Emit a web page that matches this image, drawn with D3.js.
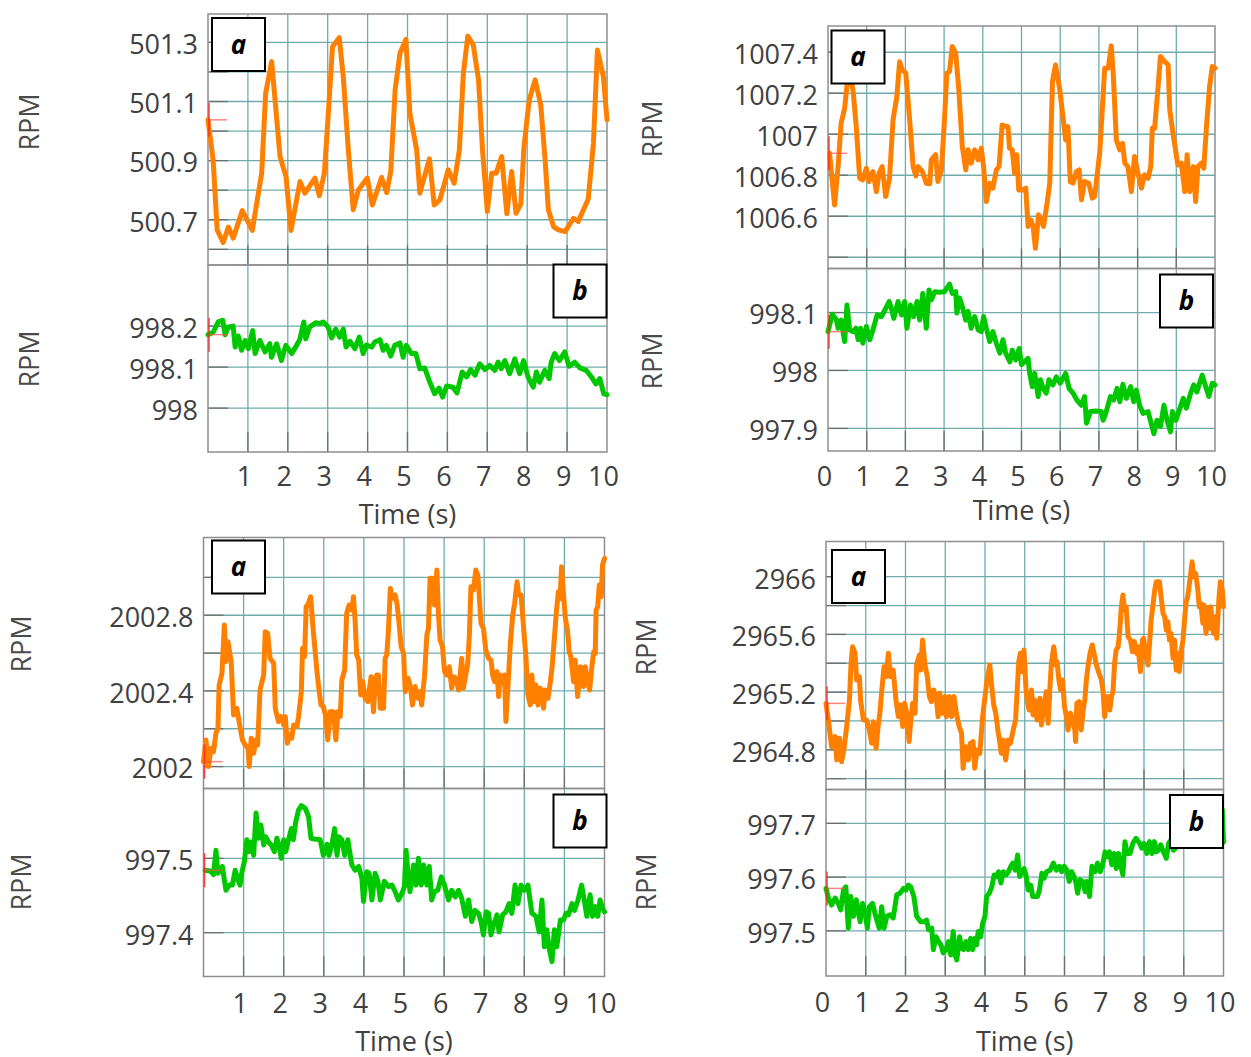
<!DOCTYPE html>
<html>
<head>
<meta charset="utf-8">
<script src="https://cdn.jsdelivr.net/npm/d3@7/dist/d3.min.js"></script>
<style>
  body { margin: 0; background: #fff; }
  svg { display: block; }
  text { font-family: "Open Sans", "Noto Sans", sans-serif; }
</style>
</head>
<body>
<div id="chart"></div>
<script>
// -------------------- Data --------------------

// [time (s), RPM]
const rpm500 = [[0,501.038],[0.13,500.90],[0.23,500.666],[0.38,500.623],[0.51,500.675],[0.635,500.638],[0.86,500.731],[1.11,500.664],[1.345,500.857],[1.445,501.128],[1.596,501.235],[1.805,500.914],[1.955,500.846],[2.08,500.664],[2.306,500.829],[2.43,500.79],[2.68,500.841],[2.79,500.781],[2.916,500.857],[3.016,501.06],[3.12,501.285],[3.29,501.316],[3.39,501.184],[3.517,500.936],[3.64,500.734],[3.77,500.801],[3.99,500.841],[4.12,500.75],[4.35,500.843],[4.48,500.792],[4.58,500.863],[4.69,501.139],[4.81,501.263],[4.96,501.31],[5.06,501.06],[5.23,500.936],[5.31,500.79],[5.55,500.906],[5.67,500.75],[5.81,500.767],[6.02,500.869],[6.17,500.824],[6.3,500.936],[6.4,501.195],[6.51,501.321],[6.65,501.291],[6.78,501.173],[6.88,500.936],[7.0,500.728],[7.11,500.857],[7.22,500.857],[7.36,500.914],[7.49,500.72],[7.61,500.863],[7.72,500.722],[7.84,500.754],[7.92,500.948],[8.05,501.105],[8.2,501.173],[8.34,501.088],[8.45,500.9],[8.53,500.734],[8.66,500.677],[8.78,500.666],[8.95,500.66],[9.16,500.705],[9.28,500.694],[9.53,500.77],[9.66,500.959],[9.76,501.274],[9.91,501.184],[10,501.038]];

const rpm998a = [[0,998.179],[0.13,998.185],[0.26,998.211],[0.37,998.214],[0.43,998.179],[0.51,998.198],[0.63,998.2],[0.68,998.149],[0.76,998.176],[0.84,998.141],[0.93,998.165],[1.01,998.145],[1.12,998.189],[1.18,998.133],[1.3,998.165],[1.43,998.137],[1.55,998.157],[1.59,998.124],[1.72,998.157],[1.84,998.116],[1.95,998.153],[2.1,998.133],[2.22,998.153],[2.3,998.167],[2.4,998.21],[2.45,998.169],[2.55,998.198],[2.7,998.208],[2.8,998.206],[2.89,998.21],[3.01,998.198],[3.1,998.171],[3.2,998.193],[3.3,998.173],[3.39,998.193],[3.46,998.149],[3.56,998.163],[3.68,998.145],[3.79,998.173],[3.89,998.133],[3.97,998.154],[4.1,998.149],[4.18,998.161],[4.31,998.167],[4.39,998.141],[4.47,998.153],[4.58,998.127],[4.68,998.153],[4.81,998.159],[4.89,998.124],[4.97,998.153],[5.1,998.133],[5.21,998.133],[5.31,998.096],[5.43,998.098],[5.56,998.063],[5.68,998.035],[5.79,998.049],[5.88,998.027],[5.98,998.054],[6.14,998.051],[6.24,998.037],[6.37,998.088],[6.48,998.076],[6.58,998.094],[6.69,998.08],[6.81,998.108],[6.94,998.094],[7.06,998.104],[7.19,998.092],[7.27,998.112],[7.35,998.096],[7.44,998.116],[7.56,998.084],[7.69,998.12],[7.81,998.084],[7.91,998.116],[8.02,998.076],[8.15,998.051],[8.23,998.088],[8.31,998.063],[8.44,998.092],[8.55,998.072],[8.6,998.112],[8.69,998.133],[8.81,998.116],[8.94,998.137],[9.05,998.102],[9.19,998.112],[9.32,998.098],[9.48,998.092],[9.61,998.076],[9.72,998.059],[9.82,998.072],[9.92,998.035],[10,998.033]];

const rpm1007 = [[0.04,1006.907],[0.17,1006.655],[0.26,1006.842],[0.34,1007.054],[0.43,1007.127],[0.54,1007.33],[0.65,1007.208],[0.73,1007.037],[0.82,1006.785],[0.9,1006.777],[0.99,1006.834],[1.06,1006.769],[1.16,1006.818],[1.25,1006.72],[1.32,1006.81],[1.4,1006.842],[1.49,1006.696],[1.59,1006.785],[1.68,1007.07],[1.78,1007.184],[1.85,1007.354],[1.92,1007.314],[2.01,1007.298],[2.11,1007.07],[2.2,1006.842],[2.27,1006.797],[2.33,1006.842],[2.44,1006.818],[2.54,1006.761],[2.63,1006.758],[2.67,1006.875],[2.78,1006.9],[2.84,1006.769],[2.93,1006.826],[3.01,1007.07],[3.07,1007.298],[3.14,1007.306],[3.21,1007.428],[3.3,1007.395],[3.38,1007.216],[3.47,1006.94],[3.56,1006.826],[3.62,1006.924],[3.7,1006.859],[3.79,1006.924],[3.88,1006.875],[3.96,1006.932],[4.02,1006.842],[4.09,1006.672],[4.18,1006.761],[4.26,1006.737],[4.35,1006.826],[4.42,1006.842],[4.5,1007.045],[4.57,1007.04],[4.65,1007.037],[4.69,1006.932],[4.76,1006.924],[4.82,1006.81],[4.88,1006.9],[4.93,1006.728],[5.02,1006.728],[5.11,1006.737],[5.17,1006.55],[5.24,1006.582],[5.3,1006.55],[5.36,1006.444],[5.44,1006.607],[5.51,1006.582],[5.57,1006.55],[5.66,1006.663],[5.73,1006.761],[5.8,1007.257],[5.88,1007.338],[5.99,1007.216],[6.07,1007.086],[6.14,1006.972],[6.2,1007.037],[6.26,1006.769],[6.33,1006.761],[6.42,1006.818],[6.49,1006.826],[6.55,1006.68],[6.63,1006.769],[6.74,1006.761],[6.83,1006.688],[6.89,1006.696],[7.02,1006.907],[7.15,1007.322],[7.24,1007.322],[7.32,1007.431],[7.37,1007.298],[7.45,1006.972],[7.54,1006.924],[7.61,1006.956],[7.67,1006.859],[7.75,1006.842],[7.84,1006.72],[7.92,1006.891],[8.01,1006.81],[8.1,1006.737],[8.18,1006.802],[8.27,1006.785],[8.34,1006.842],[8.38,1007.029],[8.44,1007.029],[8.53,1007.232],[8.59,1007.379],[8.7,1007.354],[8.79,1007.338],[8.83,1007.119],[8.92,1006.997],[9.04,1006.85],[9.13,1006.859],[9.22,1006.72],[9.28,1006.9],[9.35,1006.72],[9.44,1006.842],[9.5,1006.672],[9.56,1006.842],[9.65,1006.859],[9.71,1006.834],[9.78,1007.037],[9.86,1007.232],[9.93,1007.33],[10,1007.322]];

const rpm998b = [[0,998.067],[0.11,998.097],[0.22,998.087],[0.26,998.073],[0.34,998.087],[0.43,998.05],[0.49,998.113],[0.56,998.07],[0.65,998.067],[0.72,998.073],[0.78,998.053],[0.84,998.073],[0.9,998.047],[0.99,998.076],[1.08,998.053],[1.16,998.07],[1.27,998.096],[1.38,998.093],[1.49,998.107],[1.58,998.119],[1.64,998.107],[1.7,998.09],[1.81,998.119],[1.9,998.096],[1.98,998.119],[2.04,998.073],[2.13,998.113],[2.21,998.093],[2.3,998.119],[2.37,998.087],[2.45,998.133],[2.54,998.073],[2.61,998.139],[2.67,998.122],[2.76,998.136],[2.89,998.135],[3.01,998.136],[3.14,998.149],[3.21,998.133],[3.3,998.136],[3.33,998.099],[3.4,998.125],[3.47,998.11],[3.56,998.087],[3.62,998.102],[3.7,998.073],[3.79,998.093],[3.88,998.07],[3.96,998.067],[4.02,998.093],[4.09,998.073],[4.18,998.05],[4.26,998.067],[4.35,998.047],[4.44,998.03],[4.52,998.053],[4.59,998.03],[4.7,998.015],[4.76,998.035],[4.85,998.018],[4.94,998.038],[5.0,998.01],[5.08,998.015],[5.17,998.021],[5.21,997.995],[5.28,997.972],[5.34,997.995],[5.43,997.955],[5.49,997.984],[5.56,997.969],[5.64,997.961],[5.71,997.984],[5.81,997.975],[5.9,997.989],[6.0,997.978],[6.14,997.995],[6.23,997.969],[6.33,997.961],[6.43,997.949],[6.55,997.94],[6.63,997.955],[6.68,997.909],[6.78,997.929],[6.92,997.93],[7.06,997.929],[7.11,997.914],[7.19,997.929],[7.3,997.955],[7.38,997.949],[7.47,997.969],[7.54,997.946],[7.62,997.976],[7.71,997.952],[7.82,997.972],[7.9,997.946],[7.97,997.966],[8.05,997.94],[8.14,997.926],[8.27,997.929],[8.33,997.914],[8.42,997.891],[8.5,997.914],[8.59,997.903],[8.68,997.94],[8.76,997.914],[8.85,997.894],[8.9,997.929],[8.99,997.914],[9.08,997.932],[9.18,997.952],[9.26,997.935],[9.37,997.961],[9.45,997.975],[9.53,997.963],[9.67,997.992],[9.76,997.972],[9.84,997.955],[9.93,997.978],[10,997.975]];

const rpm2002 = [[0,2002.026],[0.06,2002.141],[0.12,2002.0],[0.19,2002.097],[0.25,2002.079],[0.31,2002.176],[0.36,2002.202],[0.39,2002.431],[0.46,2002.493],[0.52,2002.748],[0.56,2002.555],[0.61,2002.66],[0.69,2002.555],[0.75,2002.273],[0.83,2002.308],[0.91,2002.211],[0.97,2002.141],[1.04,2002.114],[1.11,2002.097],[1.14,2002.0],[1.19,2002.15],[1.25,2002.07],[1.31,2002.141],[1.35,2002.114],[1.41,2002.405],[1.5,2002.484],[1.54,2002.713],[1.6,2002.704],[1.66,2002.572],[1.75,2002.546],[1.79,2002.308],[1.87,2002.238],[1.94,2002.264],[2.0,2002.22],[2.04,2002.264],[2.09,2002.123],[2.14,2002.167],[2.2,2002.15],[2.25,2002.22],[2.33,2002.211],[2.37,2002.264],[2.44,2002.396],[2.47,2002.625],[2.52,2002.581],[2.56,2002.845],[2.62,2002.863],[2.67,2002.898],[2.74,2002.713],[2.83,2002.502],[2.88,2002.405],[2.93,2002.326],[2.99,2002.317],[3.05,2002.264],[3.1,2002.141],[3.16,2002.29],[3.24,2002.29],[3.3,2002.141],[3.35,2002.29],[3.41,2002.264],[3.45,2002.458],[3.52,2002.511],[3.57,2002.81],[3.63,2002.854],[3.7,2002.827],[3.74,2002.898],[3.78,2002.775],[3.82,2002.59],[3.87,2002.563],[3.92,2002.379],[3.97,2002.449],[4.03,2002.361],[4.1,2002.343],[4.14,2002.414],[4.18,2002.475],[4.24,2002.29],[4.28,2002.449],[4.32,2002.484],[4.36,2002.484],[4.41,2002.308],[4.49,2002.308],[4.53,2002.572],[4.57,2002.59],[4.61,2002.713],[4.66,2002.942],[4.71,2002.889],[4.78,2002.907],[4.83,2002.854],[4.88,2002.748],[4.93,2002.634],[4.99,2002.599],[5.03,2002.396],[5.1,2002.467],[5.16,2002.423],[5.21,2002.326],[5.28,2002.423],[5.35,2002.361],[5.4,2002.396],[5.44,2002.326],[5.51,2002.475],[5.57,2002.695],[5.61,2002.731],[5.65,2002.995],[5.71,2002.995],[5.76,2002.854],[5.82,2003.039],[5.86,2002.801],[5.9,2002.669],[5.96,2002.634],[6.01,2002.502],[6.07,2002.484],[6.13,2002.528],[6.19,2002.414],[6.23,2002.475],[6.29,2002.467],[6.36,2002.405],[6.44,2002.572],[6.48,2002.414],[6.54,2002.484],[6.59,2002.546],[6.63,2002.695],[6.67,2002.951],[6.73,2002.933],[6.79,2003.039],[6.84,2003.012],[6.87,2002.924],[6.92,2002.757],[6.98,2002.731],[7.04,2002.616],[7.11,2002.572],[7.17,2002.563],[7.21,2002.484],[7.26,2002.449],[7.32,2002.502],[7.36,2002.37],[7.4,2002.484],[7.46,2002.44],[7.51,2002.484],[7.54,2002.238],[7.59,2002.414],[7.65,2002.643],[7.71,2002.801],[7.76,2002.863],[7.82,2002.977],[7.86,2002.907],[7.92,2002.907],[7.98,2002.739],[8.04,2002.581],[8.09,2002.379],[8.15,2002.326],[8.19,2002.484],[8.23,2002.343],[8.29,2002.431],[8.34,2002.326],[8.4,2002.414],[8.44,2002.387],[8.48,2002.308],[8.52,2002.405],[8.59,2002.361],[8.65,2002.449],[8.69,2002.519],[8.75,2002.678],[8.8,2002.819],[8.85,2002.924],[8.89,2002.887],[8.93,2003.056],[8.97,2002.933],[9.02,2002.792],[9.08,2002.713],[9.12,2002.607],[9.16,2002.581],[9.23,2002.449],[9.27,2002.563],[9.33,2002.37],[9.4,2002.528],[9.44,2002.519],[9.48,2002.423],[9.52,2002.528],[9.58,2002.449],[9.63,2002.405],[9.68,2002.519],[9.73,2002.607],[9.77,2002.599],[9.79,2002.827],[9.83,2002.845],[9.87,2002.96],[9.92,2002.898],[9.95,2003.065],[10,2003.1]];

const rpm997a = [[0.04,997.484],[0.17,997.483],[0.25,997.478],[0.31,997.511],[0.36,997.48],[0.42,997.484],[0.47,997.489],[0.56,997.457],[0.64,997.464],[0.72,997.464],[0.79,997.484],[0.86,997.471],[0.91,997.464],[0.96,997.482],[1.02,997.496],[1.08,997.525],[1.14,997.509],[1.19,997.522],[1.25,997.504],[1.31,997.561],[1.37,997.527],[1.43,997.545],[1.5,997.518],[1.55,997.529],[1.62,997.522],[1.69,997.518],[1.77,997.509],[1.83,997.527],[1.89,997.516],[1.94,997.5],[2.0,997.525],[2.05,997.509],[2.12,997.525],[2.19,997.54],[2.24,997.525],[2.3,997.549],[2.37,997.565],[2.44,997.571],[2.54,997.567],[2.62,997.556],[2.68,997.527],[2.77,997.526],[2.91,997.525],[2.99,997.504],[3.08,997.519],[3.13,997.504],[3.2,997.518],[3.27,997.54],[3.33,997.504],[3.38,997.529],[3.45,997.525],[3.52,997.504],[3.6,997.525],[3.66,997.504],[3.7,997.491],[3.78,997.484],[3.87,997.489],[3.95,997.473],[3.99,997.442],[4.07,997.482],[4.13,997.48],[4.2,997.444],[4.28,997.48],[4.35,997.469],[4.41,997.444],[4.51,997.469],[4.61,997.462],[4.7,997.464],[4.78,997.455],[4.86,997.444],[4.95,997.453],[5.01,997.462],[5.05,997.511],[5.1,997.48],[5.15,997.455],[5.24,997.491],[5.3,997.464],[5.36,997.5],[5.43,997.464],[5.49,997.491],[5.57,997.464],[5.63,997.489],[5.69,997.444],[5.76,997.455],[5.84,997.457],[5.93,997.475],[6.01,997.464],[6.11,997.444],[6.19,997.457],[6.28,997.448],[6.36,997.457],[6.44,997.446],[6.53,997.422],[6.61,997.444],[6.69,997.415],[6.77,997.43],[6.86,997.426],[6.92,997.415],[6.98,997.397],[7.05,997.428],[7.11,997.426],[7.17,997.397],[7.23,997.41],[7.32,997.424],[7.37,997.401],[7.46,997.424],[7.54,997.428],[7.62,997.439],[7.69,997.426],[7.77,997.464],[7.84,997.439],[7.92,997.464],[8.0,997.457],[8.09,997.464],[8.19,997.426],[8.29,997.422],[8.37,997.401],[8.44,997.444],[8.5,997.381],[8.56,997.404],[8.62,997.379],[8.69,997.361],[8.75,997.404],[8.81,997.381],[8.9,997.417],[8.98,997.417],[9.04,997.426],[9.1,997.424],[9.19,997.439],[9.25,997.43],[9.34,997.444],[9.43,997.464],[9.5,997.442],[9.56,997.422],[9.64,997.451],[9.7,997.422],[9.77,997.435],[9.83,997.422],[9.89,997.444],[9.95,997.433],[10,997.428]];

const rpm2965 = [[0,2965.122],[0.08,2964.961],[0.14,2964.822],[0.23,2964.891],[0.27,2964.73],[0.34,2964.88],[0.39,2964.718],[0.45,2964.799],[0.52,2964.961],[0.59,2965.145],[0.63,2965.4],[0.67,2965.515],[0.73,2965.469],[0.77,2965.284],[0.84,2965.307],[0.87,2965.145],[0.94,2965.007],[1.02,2965.007],[1.09,2964.938],[1.15,2964.845],[1.19,2964.995],[1.26,2964.811],[1.31,2964.961],[1.36,2965.065],[1.4,2965.203],[1.46,2965.376],[1.51,2965.307],[1.57,2965.469],[1.62,2965.307],[1.69,2965.353],[1.76,2965.145],[1.82,2965.03],[1.88,2965.111],[1.93,2964.961],[1.98,2965.122],[2.04,2965.042],[2.09,2964.857],[2.13,2964.995],[2.18,2965.122],[2.24,2965.053],[2.28,2965.388],[2.35,2965.457],[2.38,2965.353],[2.43,2965.561],[2.49,2965.388],[2.55,2965.307],[2.6,2965.169],[2.65,2965.134],[2.71,2965.215],[2.78,2965.145],[2.82,2965.03],[2.86,2965.192],[2.93,2965.053],[2.99,2965.169],[3.03,2965.03],[3.1,2965.169],[3.16,2965.03],[3.22,2965.169],[3.28,2965.053],[3.35,2964.961],[3.41,2964.915],[3.45,2964.672],[3.51,2964.822],[3.58,2964.73],[3.63,2964.845],[3.7,2964.857],[3.74,2964.672],[3.8,2964.799],[3.87,2964.776],[3.94,2965.03],[4.0,2965.169],[4.05,2965.284],[4.12,2965.388],[4.17,2965.238],[4.22,2965.111],[4.27,2965.053],[4.33,2964.926],[4.37,2964.857],[4.41,2964.776],[4.46,2964.868],[4.52,2964.73],[4.58,2964.868],[4.64,2964.845],[4.71,2964.938],[4.77,2965.007],[4.81,2965.215],[4.85,2965.411],[4.89,2965.469],[4.94,2965.342],[4.98,2965.492],[5.03,2965.226],[5.06,2965.145],[5.11,2965.076],[5.17,2965.215],[5.21,2965.042],[5.25,2965.145],[5.31,2965.007],[5.38,2965.157],[5.42,2964.972],[5.48,2965.099],[5.54,2965.203],[5.59,2964.984],[5.63,2965.215],[5.67,2965.4],[5.73,2965.515],[5.78,2965.388],[5.81,2965.411],[5.86,2965.284],[5.9,2965.215],[5.95,2965.284],[6.0,2965.099],[6.05,2965.03],[6.09,2964.938],[6.15,2965.053],[6.2,2965.007],[6.26,2964.938],[6.28,2964.857],[6.31,2965.122],[6.37,2965.134],[6.42,2964.938],[6.47,2965.076],[6.51,2965.145],[6.55,2965.284],[6.59,2965.376],[6.65,2965.48],[6.7,2965.527],[6.76,2965.446],[6.8,2965.388],[6.87,2965.33],[6.93,2965.284],[6.97,2965.203],[7.01,2965.03],[7.05,2965.099],[7.09,2965.169],[7.14,2965.076],[7.18,2965.169],[7.22,2965.203],[7.26,2965.4],[7.3,2965.492],[7.35,2965.515],[7.39,2965.63],[7.43,2965.792],[7.47,2965.873],[7.51,2965.769],[7.55,2965.792],[7.6,2965.584],[7.66,2965.561],[7.71,2965.48],[7.76,2965.55],[7.81,2965.469],[7.85,2965.515],[7.91,2965.342],[7.96,2965.561],[7.99,2965.573],[8.04,2965.457],[8.1,2965.388],[8.14,2965.538],[8.18,2965.7],[8.22,2965.792],[8.27,2965.908],[8.31,2965.965],[8.39,2965.965],[8.43,2965.861],[8.48,2965.746],[8.52,2965.723],[8.56,2965.63],[8.6,2965.688],[8.64,2965.561],[8.68,2965.607],[8.73,2965.434],[8.77,2965.561],[8.81,2965.353],[8.85,2965.469],[8.89,2965.342],[8.94,2965.492],[8.98,2965.561],[9.02,2965.7],[9.06,2965.827],[9.1,2965.861],[9.16,2965.988],[9.21,2966.104],[9.25,2966.0],[9.3,2966.023],[9.35,2965.919],[9.39,2965.792],[9.43,2965.815],[9.48,2965.677],[9.51,2965.804],[9.56,2965.607],[9.61,2965.781],[9.65,2965.642],[9.68,2965.792],[9.72,2965.665],[9.75,2965.607],[9.8,2965.723],[9.83,2965.573],[9.88,2965.827],[9.92,2965.965],[9.97,2965.908],[10,2965.792]];

const rpm997b = [[0,997.579],[0.06,997.561],[0.14,997.548],[0.23,997.561],[0.31,997.551],[0.37,997.539],[0.44,997.576],[0.5,997.582],[0.56,997.505],[0.62,997.564],[0.69,997.527],[0.76,997.558],[0.81,997.536],[0.86,997.517],[0.92,997.551],[0.98,997.536],[1.04,997.505],[1.09,997.545],[1.17,997.551],[1.23,997.533],[1.29,997.517],[1.34,997.505],[1.4,997.545],[1.46,997.505],[1.53,997.527],[1.61,997.53],[1.69,997.524],[1.78,997.567],[1.86,997.57],[1.95,997.579],[2.01,997.576],[2.07,997.585],[2.13,997.582],[2.21,997.564],[2.28,997.527],[2.38,997.517],[2.47,997.517],[2.53,997.52],[2.58,997.502],[2.66,997.505],[2.7,997.465],[2.77,997.489],[2.83,997.48],[2.89,997.474],[2.95,997.459],[3.02,997.465],[3.08,997.48],[3.14,997.455],[3.2,997.499],[3.25,997.455],[3.29,997.446],[3.36,997.489],[3.41,997.468],[3.46,997.465],[3.52,997.48],[3.58,997.465],[3.64,997.486],[3.69,997.465],[3.75,997.486],[3.79,997.474],[3.83,997.499],[3.89,997.489],[3.94,997.514],[4.0,997.527],[4.04,997.564],[4.11,997.57],[4.17,997.582],[4.23,997.604],[4.3,997.601],[4.34,997.61],[4.4,997.589],[4.46,997.61],[4.53,997.604],[4.59,997.61],[4.65,997.62],[4.7,997.626],[4.76,997.613],[4.82,997.641],[4.87,997.601],[4.92,997.607],[4.98,997.616],[5.03,997.604],[5.09,997.576],[5.15,997.585],[5.2,997.564],[5.26,997.564],[5.32,997.564],[5.37,997.576],[5.43,997.607],[5.49,997.598],[5.55,997.61],[5.64,997.613],[5.72,997.626],[5.8,997.613],[5.87,997.62],[5.93,997.61],[5.99,997.62],[6.06,997.613],[6.12,997.592],[6.18,997.61],[6.24,997.601],[6.29,997.589],[6.33,997.57],[6.39,997.595],[6.46,997.592],[6.52,997.573],[6.56,997.592],[6.63,997.564],[6.69,997.62],[6.77,997.61],[6.83,997.626],[6.9,997.61],[6.96,997.623],[7.02,997.647],[7.08,997.638],[7.13,997.647],[7.19,997.623],[7.25,997.644],[7.3,997.616],[7.36,997.644],[7.4,997.626],[7.47,997.604],[7.52,997.666],[7.58,997.644],[7.65,997.644],[7.72,997.663],[7.8,997.672],[7.89,997.663],[7.94,997.654],[8.0,997.663],[8.07,997.644],[8.14,997.666],[8.2,997.644],[8.26,997.666],[8.31,997.647],[8.36,997.65],[8.42,997.66],[8.49,997.647],[8.56,997.635],[8.62,997.663],[8.68,997.669],[8.74,997.65],[8.83,997.657],[8.91,997.663],[9.25,997.665],[9.6,997.68],[9.97,997.725],[10,997.665]];

// gridlines and labelled ticks of each y axis
const gridP1a = [500.6, 500.7, 500.8, 500.9, 501.0, 501.1, 501.2, 501.3];
const labelsP1a = [500.7, 500.9, 501.1, 501.3];
const gridP1b = [998.0, 998.1, 998.2];
const gridP2a = [1006.4, 1006.6, 1006.8, 1007.0, 1007.2, 1007.4];
const labelsP2a = [1006.6, 1006.8, 1007.0, 1007.2, 1007.4];
const gridP2b = [997.9, 998.0, 998.1];
const gridP3a = [2002.0, 2002.2, 2002.4, 2002.6, 2002.8, 2003.0];
const labelsP3a = [2002.0, 2002.4, 2002.8];
const gridP3b = [997.4, 997.5];
const gridP4a = [2964.6, 2964.8, 2965.0, 2965.2, 2965.4, 2965.6, 2965.8, 2966.0];
const labelsP4a = [2964.8, 2965.2, 2965.6, 2966.0];
const gridP4b = [997.5, 997.6, 997.7];

// x axis
const timeGrid = [1, 2, 3, 4, 5, 6, 7, 8, 9];
const timeLabelsNoZero = [1, 2, 3, 4, 5, 6, 7, 8, 9, 10];
const timeLabels = [0, 1, 2, 3, 4, 5, 6, 7, 8, 9, 10];


// -------------------- Setup --------------------

const WIDTH = 1251;
const HEIGHT = 1057;
const ORANGE = "#ff8000";
const GREEN = "#00c800";
const GRID = "#6fabab";
const TICK = "#6e6e6e";
const FRAME = "#8e8e8e";
const TEXT = "#404040";

const svg = d3.select("#chart")
    .append("svg")
    .attr("width", WIDTH)
    .attr("height", HEIGHT);

const fmt = d => String(+d.toFixed(1));

// -------------------- Funtions --------------------

// one strip (a or b) : grid, frame, trace, cursor, tag box
const drawStrip = (x, s) => {
    const y = d3.scaleLinear().domain(s.domain).range([s.bottom, s.top]);
    const [left, right] = x.range();
    const g = svg.append("g");

    // teal grid
    g.append("g").selectAll("line.v")
        .data(timeGrid).join("line")
        .attr("x1", d => x(d)).attr("x2", d => x(d))
        .attr("y1", s.top).attr("y2", s.bottom)
        .attr("stroke", GRID).attr("stroke-width", 1.3);
    g.append("g").selectAll("line.h")
        .data(s.grid).join("line")
        .attr("x1", left).attr("x2", right)
        .attr("y1", d => y(d)).attr("y2", d => y(d))
        .attr("stroke", GRID).attr("stroke-width", 1.3);

    // short dark ticks on the grid ends
    g.append("g").selectAll("line")
        .data(timeGrid).join("line")
        .attr("x1", d => x(d)).attr("x2", d => x(d))
        .attr("y1", s.bottom - 20).attr("y2", s.bottom)
        .attr("stroke", TICK).attr("stroke-width", 1.3);
    g.append("g").selectAll("line")
        .data(s.grid).join("line")
        .attr("x1", left).attr("x2", left + 20)
        .attr("y1", d => y(d)).attr("y2", d => y(d))
        .attr("stroke", TICK).attr("stroke-width", 1.3);

    // frame
    g.append("rect")
        .attr("x", left).attr("y", s.top)
        .attr("width", right - left).attr("height", s.bottom - s.top)
        .attr("fill", "none").attr("stroke", FRAME).attr("stroke-width", 1.5);

    // y labels
    const ax = g.append("g")
        .attr("transform", `translate(${left},0)`)
        .call(d3.axisLeft(y).tickValues(s.labels || s.grid).tickSize(0).tickPadding(10).tickFormat(fmt));
    ax.select(".domain").remove();
    ax.selectAll("text")
        .attr("font-size", 27).attr("fill", TEXT).attr("dy", "0.42em")
        .style("font-family", '"Open Sans", "Noto Sans", sans-serif');

    // trace
    g.append("path")
        .datum(s.data)
        .attr("fill", "none")
        .attr("stroke", s.color)
        .attr("stroke-width", 5)
        .attr("stroke-linejoin", "round")
        .attr("stroke-linecap", "round")
        .attr("d", d3.line().x(d => x(d[0])).y(d => y(d[1])));

    // red cursor at the first sample
    const c0 = s.data[0];
    g.append("line")
        .attr("x1", x(0) + 1).attr("x2", x(0) + 1)
        .attr("y1", y(c0[1]) - 17).attr("y2", y(c0[1]) + 17)
        .attr("stroke", "#ff2020").attr("stroke-width", 1.5).attr("opacity", 0.85);
    g.append("line")
        .attr("x1", x(0) + 1).attr("x2", x(0) + 19)
        .attr("y1", y(c0[1])).attr("y2", y(c0[1]))
        .attr("stroke", "#ff5050").attr("stroke-width", 1.5).attr("opacity", 0.7);

    // tag box
    g.append("rect")
        .attr("x", s.box[0]).attr("y", s.box[1])
        .attr("width", 53).attr("height", 53)
        .attr("fill", "#fff").attr("stroke", "#000").attr("stroke-width", 2);
    g.append("text")
        .attr("x", s.box[0] + 26.5).attr("y", s.box[1] + 26.5)
        .attr("dy", "0.35em")
        .attr("text-anchor", "middle")
        .attr("font-size", 26).attr("font-weight", "bold").attr("font-style", "italic")
        .attr("fill", "#000")
        .text(s.tag);

    // RPM
    g.append("text")
        .attr("transform", `translate(${s.rpm[0]},${s.rpm[1]}) rotate(-90)`)
        .attr("dy", "0.35em")
        .attr("text-anchor", "middle")
        .attr("font-size", 27).attr("fill", "#4a4a4a")
        .text("RPM");
};

const drawPanel = (p) => {
    const x = d3.scaleLinear().domain([0, 10]).range([p.left, p.right]);
    p.strips.forEach(s => drawStrip(x, s));

    const ax = svg.append("g")
        .attr("transform", `translate(-4,${p.xLabelY - 10})`)
        .call(d3.axisBottom(x).tickValues(p.xLabels).tickSize(0).tickPadding(0).tickFormat(d3.format("d")));
    ax.select(".domain").remove();
    ax.selectAll("text")
        .attr("font-size", 27).attr("fill", TEXT)
        .style("font-family", '"Open Sans", "Noto Sans", sans-serif');

    svg.append("text")
        .attr("x", (p.left + p.right) / 2).attr("y", p.timeY)
        .attr("dy", "0.35em")
        .attr("text-anchor", "middle")
        .attr("font-size", 27).attr("fill", TEXT)
        .text("Time (s)");
};

// -------------------- Panels --------------------

const panels = [
    { left: 208, right: 607, xLabels: timeLabelsNoZero, xLabelY: 477, timeY: 515,
      strips: [
        { top: 14, bottom: 265, domain: [500.547, 501.396], grid: gridP1a, labels: labelsP1a,
          data: rpm500, color: ORANGE, tag: "a", box: [212, 18], rpm: [30, 122] },
        { top: 265, bottom: 452, domain: [997.893, 998.349], grid: gridP1b,
          data: rpm998a, color: GREEN, tag: "b", box: [553.5, 264.5], rpm: [30, 359] }
      ] },
    { left: 828, right: 1215, xLabels: timeLabels, xLabelY: 477, timeY: 511,
      strips: [
        { top: 26, bottom: 268.5, domain: [1006.345, 1007.528], grid: gridP2a, labels: labelsP2a,
          data: rpm1007, color: ORANGE, tag: "a", box: [831.5, 30.5], rpm: [653, 129] },
        { top: 268.5, bottom: 451, domain: [997.861, 998.176], grid: gridP2b,
          data: rpm998b, color: GREEN, tag: "b", box: [1160, 274.5], rpm: [653, 361] }
      ] },
    { left: 203.5, right: 604.5, xLabelY: 1004, xLabels: timeLabelsNoZero, timeY: 1042,
      strips: [
        { top: 537.5, bottom: 788.5, domain: [2001.884, 2003.211], grid: gridP3a, labels: labelsP3a,
          data: rpm2002, color: ORANGE, tag: "a", box: [212, 540.5], rpm: [22, 644] },
        { top: 788.5, bottom: 976.5, domain: [997.341, 997.594], grid: gridP3b,
          data: rpm997a, color: GREEN, tag: "b", box: [553.5, 794.5], rpm: [22, 882] }
      ] },
    { left: 826, right: 1223.5, xLabelY: 1003, xLabels: timeLabels, timeY: 1042,
      strips: [
        { top: 541.5, bottom: 789.5, domain: [2964.525, 2966.244], grid: gridP4a, labels: labelsP4a,
          data: rpm2965, color: ORANGE, tag: "a", box: [832, 550], rpm: [647, 647] },
        { top: 789.5, bottom: 976, domain: [997.416, 997.763], grid: gridP4b,
          data: rpm997b, color: GREEN, tag: "b", box: [1170, 795], rpm: [647, 882] }
      ] }
];

panels.forEach(drawPanel);
</script>
</body>
</html>
